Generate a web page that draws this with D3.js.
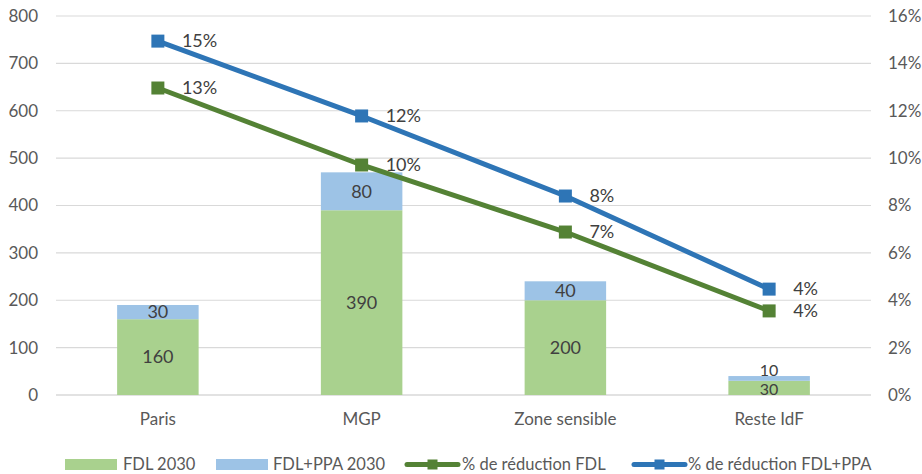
<!DOCTYPE html>
<html><head><meta charset="utf-8">
<script src="https://cdn.jsdelivr.net/npm/d3@7/dist/d3.min.js"></script>
<style>body{margin:0;background:#fff;}svg text{font-family:Lato,"Open Sans",sans-serif;}</style>
</head><body><svg id="c" width="922" height="474"></svg>
<script>
const categories = ["Paris", "MGP", "Zone sensible", "Reste IdF"];
const fdl2030 = [160, 390, 200, 30];
const ppa2030 = [30, 80, 40, 10];
const reducFDL = [0.1296, 0.0971, 0.0688, 0.0355];
const reducFDLPPA = [0.1494, 0.1178, 0.0840, 0.0447];
const leftTicks = [0, 100, 200, 300, 400, 500, 600, 700, 800];
const rightTicks = [0, 0.02, 0.04, 0.06, 0.08, 0.10, 0.12, 0.14, 0.16];
const seriesNames = ["FDL 2030", "FDL+PPA 2030", "% de réduction FDL", "% de réduction FDL+PPA"];

const colGreenBar = "#A9D18E", colBlueBar = "#9DC3E6", colGreenLine = "#548235", colBlueLine = "#2E75B6";
const textCol = "#404040", axisCol = "#595959";
const FS = "17px";

const svg = d3.select("#c");
const L = 56, R = 871, T = 16, B = 395;
const x = d3.scaleBand().domain(categories).range([L, R]).paddingInner(0.6).paddingOuter(0.3);
const xc = d3.scalePoint().domain(categories).range([L, R]).padding(0.5);
const y = d3.scaleLinear().domain([0, 800]).range([B, T]);
const y2 = d3.scaleLinear().domain([0, 0.16]).range([B, T]);

// gridlines
svg.append("g").selectAll("line").data(leftTicks.filter(d => d > 0)).join("line")
  .attr("x1", L).attr("x2", R).attr("y1", d => y(d)).attr("y2", d => y(d))
  .attr("stroke", "#D9D9D9").attr("stroke-width", 1.2);

// left axis
const la = svg.append("g").attr("transform", `translate(${L},0)`)
  .call(d3.axisLeft(y).tickValues(leftTicks).tickSize(0).tickPadding(18));
la.select(".domain").remove();
la.selectAll("text").attr("fill", axisCol).style("font-size", FS).style("font-family", null);

// right axis
const ra = svg.append("g").attr("transform", `translate(${R},0)`)
  .call(d3.axisRight(y2).tickValues(rightTicks).tickSize(0).tickPadding(17).tickFormat(d3.format(".0%")));
ra.select(".domain").remove();
ra.selectAll("text").attr("fill", axisCol).style("font-size", FS).style("font-family", null);

// bottom axis line
svg.append("line").attr("x1", L).attr("x2", R).attr("y1", y(0)).attr("y2", y(0)).attr("stroke", "#D9D9D9").attr("stroke-width", 1.5);

// bars
const bw = x.bandwidth();
const stacks = categories.map((c, i) => ({c, a: fdl2030[i], b: ppa2030[i]}));
const g = svg.append("g");
g.selectAll(".g1").data(stacks).join("rect")
  .attr("x", d => xc(d.c) - bw / 2).attr("width", bw)
  .attr("y", d => y(d.a)).attr("height", d => y(0) - y(d.a)).attr("fill", colGreenBar);
g.selectAll(".g2").data(stacks).join("rect")
  .attr("x", d => xc(d.c) - bw / 2).attr("width", bw)
  .attr("y", d => y(d.a + d.b)).attr("height", d => y(d.a) - y(d.a + d.b)).attr("fill", colBlueBar);

// bar labels
const small = d => (y(0) - y(d.a)) < 20;
const lowY = d => (y(0) + y(d.a)) / 2 + (small(d) ? 1.5 : 0);
g.selectAll(".l1").data(stacks).join("text")
  .attr("x", d => xc(d.c)).attr("y", lowY).attr("dy", "0.35em")
  .attr("text-anchor", "middle").attr("fill", textCol).style("font-size", d => small(d) ? "16px" : "18px").text(d => d.a);
g.selectAll(".l2").data(stacks).join("text")
  .attr("x", d => xc(d.c)).attr("y", d => Math.min((y(d.a) + y(d.a + d.b)) / 2, lowY(d) - 19)).attr("dy", "0.35em")
  .attr("text-anchor", "middle").attr("fill", textCol).style("font-size", d => small(d) ? "16px" : "18px").text(d => d.b);

// lines
function drawLine(vals, col) {
  const pts = categories.map((c, i) => [xc(c), y2(vals[i])]);
  svg.append("path").attr("d", d3.line()(pts)).attr("fill", "none").attr("stroke", col).attr("stroke-width", 5).attr("stroke-linejoin", "round");
  svg.append("g").selectAll("rect").data(pts).join("rect")
    .attr("x", p => p[0] - 6.5).attr("y", p => p[1] - 6.5).attr("width", 13).attr("height", 13).attr("fill", col);
  svg.append("g").selectAll("text").data(vals).join("text")
    .attr("x", (v, i) => xc(categories[i]) + 24).attr("y", v => y2(v)).attr("dy", "0.35em")
    .attr("fill", textCol).style("font-size", "18px").text(v => d3.format(".0%")(v));
}
drawLine(reducFDL, colGreenLine);
drawLine(reducFDLPPA, colBlueLine);

// category labels
svg.append("g").selectAll("text").data(categories).join("text")
  .attr("x", c => xc(c)).attr("y", 419).attr("dy", "0.35em").attr("text-anchor", "middle")
  .attr("fill", axisCol).style("font-size", FS).text(c => c);

// legend
const leg = svg.append("g");
const ly = 464.5;
const items = [
  {t: "bar", col: colGreenBar, x0: 65, w: 52, tx: 123},
  {t: "bar", col: colBlueBar, x0: 216, w: 52, tx: 273},
  {t: "line", col: colGreenLine, x0: 405, w: 55, tx: 462},
  {t: "line", col: colBlueLine, x0: 632, w: 55, tx: 688}
];
items.forEach((it, i) => {
  if (it.t === "bar") {
    leg.append("rect").attr("x", it.x0).attr("y", ly - 5.5).attr("width", it.w).attr("height", 11).attr("fill", it.col);
  } else {
    leg.append("line").attr("x1", it.x0 + 2).attr("x2", it.x0 + it.w - 2).attr("y1", ly).attr("y2", ly).attr("stroke", it.col).attr("stroke-width", 5).attr("stroke-linecap", "round");
    leg.append("rect").attr("x", it.x0 + it.w / 2 - 5).attr("y", ly - 5).attr("width", 10).attr("height", 10).attr("fill", it.col);
  }
  leg.append("text").attr("x", it.tx).attr("y", ly).attr("dy", "0.35em").attr("fill", axisCol).style("font-size", "16.5px").text(seriesNames[i]);
});
</script></body></html>
